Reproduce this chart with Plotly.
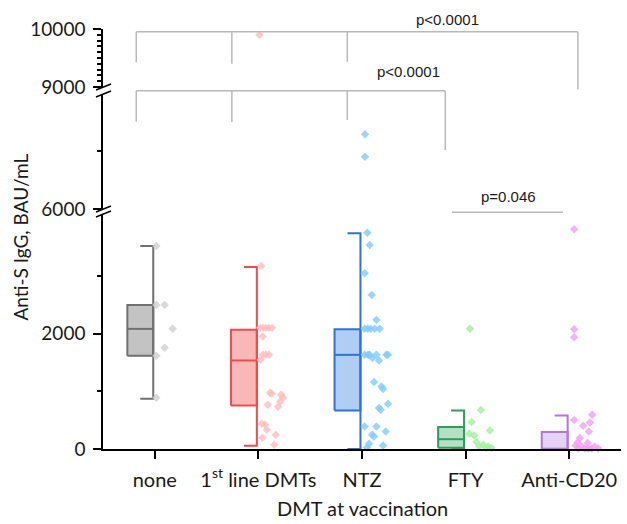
import plotly.graph_objects as go

# ---------------- data ----------------
categories = ["none", "1<sup>st</sup> line DMTs", "NTZ", "FTY", "Anti-CD20"]

# box statistics (BAU/mL)
box_min = [872, 57, 0, 0, 0]
box_q1 = [1617, 756, 669, 23, 0]
box_med = [2085, 1536, 1634, 170, 5]
box_q3 = [2501, 2068, 2080, 381, 295]
box_max = [3523, 3159, 3743, 669, 582]

# individual values and their horizontal offsets (category units) as placed in the picture
none_vals = [3523, 2501, 2501, 2085, 1756, 1617, 889]
none_offs = [0.015, 0.015, 0.095, 0.172, 0.095, 0.015, 0.015]

first_vals = [9900, 3177, 2102, 2102, 2102, 2102, 2102, 1951, 1636, 1636, 1636, 1548,
              976, 958, 768, 941, 889, 820, 733, 438, 421, 334, 248, 196, 75]
first_offs = [0.010, 0.026, 0.016, 0.045, 0.074, 0.103, 0.132, 0.042, 0.045, 0.074, 0.103, 0.023,
              0.113, 0.129, 0.091, 0.219, 0.238, 0.209, 0.190, 0.033, 0.065, 0.081, 0.168, 0.039, 0.152]

ntz_vals = [7295, 6906, 3754, 3540, 3050, 2674, 2241, 2085, 2085, 2085, 2085, 2085,
            1634, 1634, 1634, 1634, 1634, 1634, 1577, 1536, 1161, 1085, 1040, 785, 711, 681,
            392, 392, 305, 248, 218, 92, 62, 28]
ntz_offs = [0.029, 0.029, 0.052, 0.074, 0.026, 0.094, 0.139, 0.026, 0.055, 0.084, 0.123, 0.171,
            0.026, 0.058, 0.074, 0.139, 0.236, 0.251, 0.100, 0.164, 0.116, 0.187, 0.203, 0.251, 0.164, 0.180,
            0.026, 0.139, 0.229, 0.097, 0.116, 0.068, 0.203, 0.048]

fty_vals = [2085, 676, 468, 322, 265, 236, 121, 75, 45, 45, 17, 17]
fty_offs = [0.042, 0.148, 0.058, 0.235, 0.035, 0.083, 0.106, 0.170, 0.131, 0.218, 0.251, 0.203]

cd20_vals = [3813, 2080, 1941, 594, 503, 461, 404, 305, 191, 114, 104, 57, 45, 45, 10, 10, 10, 10, 10]
cd20_offs = [0.048, 0.048, 0.048, 0.222, 0.048, 0.200, 0.135, 0.190, 0.103, 0.081, 0.178, 0.062,
             0.120, 0.248, 0.216, 0.152, 0.280, 0.087, 0.183]

group_vals = [none_vals, first_vals, ntz_vals, fty_vals, cd20_vals]
group_offs = [none_offs, first_offs, ntz_offs, fty_offs, cd20_offs]

# axis segments (broken y axis)
seg_ranges = {"y": [0, 4078], "y2": [6000, 7993], "y3": [9000, 10000]}
seg_ticks = {"y": [0, 2000], "y2": [6000], "y3": [9000, 10000]}
seg_minor = {"y": [1000, 3000], "y2": [7000], "y3": list(range(9100, 10000, 100))}

# significance annotations
p_labels = ["p&lt;0.0001", "p&lt;0.0001", "p=0.046"]

# ---------------- styles ----------------
line_cols = ["#707070", "#f24b4b", "#2b74d9", "#2e9e5b", "#b574e3"]
fill_cols = ["#c3c3c3", "#f9b8b8", "#b0cdf3", "#b6dfc6", "#e3d3f4"]
pt_cols = ["#d0d0d0", "#ffbdbd", "#80ccff", "#a0f09c", "#f59cf5"]

FONT = "Lato"
TXT = "#1a1a1a"

fig = go.Figure()


def seg_of(v):
    if v >= 9000:
        return "y3"
    if v >= 6000:
        return "y2"
    return "y"


for i in range(len(categories)):
    L, R = i - 0.265, i - 0.015
    C = (L + R) / 2
    lc = dict(color=line_cols[i], width=2)
    fig.add_trace(go.Scatter(x=[L, R, R, L, L],
                             y=[box_q1[i], box_q1[i], box_q3[i], box_q3[i], box_q1[i]],
                             mode="lines", fill="toself", fillcolor=fill_cols[i], line=lc,
                             cliponaxis=False, hoverinfo="skip"))
    fig.add_trace(go.Scatter(x=[L, R], y=[box_med[i], box_med[i]], mode="lines", line=lc,
                             cliponaxis=False, hoverinfo="skip"))
    fig.add_trace(go.Scatter(x=[C, R, R, C], y=[box_max[i], box_max[i], box_min[i], box_min[i]],
                             mode="lines", line=lc, cliponaxis=False, hoverinfo="skip"))
    for ax in ["y", "y2", "y3"]:
        xs = [i + o for v, o in zip(group_vals[i], group_offs[i]) if seg_of(v) == ax]
        ys = [v for v in group_vals[i] if seg_of(v) == ax]
        if not xs:
            continue
        fig.add_trace(go.Scatter(x=xs, y=ys, mode="markers", xaxis="x", yaxis=ax,
                                 marker=dict(symbol="diamond", size=6.5, color=pt_cols[i],
                                             opacity=0.8, line=dict(width=0)),
                                 cliponaxis=False))

# plot area: 518 x 420 px, bottom at y=449
H = 420.0
BOT = 449.0


def py(ypx):
    return (BOT - ypx) / H


domains = {"y": [0, py(214)], "y2": [py(209), py(94)], "y3": [py(87), 1.0]}

axis_common = dict(showline=True, linecolor="black", linewidth=1.5, ticks="outside", ticklen=8,
                   tickwidth=1.5, tickcolor="black", showgrid=False, zeroline=False, anchor="x",
                   tickfont=dict(family=FONT, size=19, color=TXT), ticklabelstandoff=4)

layout_axes = {}
for name, key in [("y", "yaxis"), ("y2", "yaxis2"), ("y3", "yaxis3")]:
    layout_axes[key] = dict(axis_common, domain=domains[name], range=seg_ranges[name],
                            tickmode="array", tickvals=seg_ticks[name],
                            ticktext=[str(t) for t in seg_ticks[name]],
                            minor=dict(ticks="outside", ticklen=4, tickwidth=1.5, tickcolor="black",
                                       tickmode="array", tickvals=seg_minor[name], showgrid=False))

fig.update_layout(
    width=627, height=524,
    margin=dict(l=103, r=6, t=29, b=75),
    paper_bgcolor="white", plot_bgcolor="white",
    showlegend=False,
    xaxis=dict(domain=[0, 1], range=[-0.5, 4.5], anchor="y", showline=True, linecolor="black",
               linewidth=1.5, ticks="outside", ticklen=8, tickwidth=1.5, tickcolor="black",
               showgrid=False, zeroline=False, tickmode="array", tickvals=list(range(5)),
               ticktext=categories, tickfont=dict(family=FONT, size=20, color=TXT),
               ticklabelstandoff=4),
    **layout_axes,
)

# axis break marks (double slashes)
shapes = []
for yy in [domains["y"][1], domains["y2"][0], domains["y2"][1], domains["y3"][0]]:
    shapes.append(dict(type="line", xref="paper", yref="paper", xsizemode="pixel", ysizemode="pixel",
                       xanchor=0, yanchor=yy, x0=-7, x1=8, y0=-3, y1=3,
                       line=dict(color="black", width=1.5)))

# significance brackets (x in category units, y in paper units)
gray = dict(color="#b9b9b9", width=1.5)
brackets = [
    ([-0.179, 0.744, 1.858, 4.084], 31.7, [62.3, 63.7, 61.7, 89.3]),
    ([-0.179, 0.744, 1.858, 2.804], 90.7, [121.7, 122.0, 120.0, 150.0]),
]
for xs, ybar, ybots in brackets:
    shapes.append(dict(type="line", xref="x", yref="paper", x0=xs[0], x1=xs[-1],
                       y0=py(ybar), y1=py(ybar), line=gray))
    for xv, yb in zip(xs, ybots):
        shapes.append(dict(type="line", xref="x", yref="paper", x0=xv, x1=xv,
                           y0=py(ybar), y1=py(yb), line=gray))
shapes.append(dict(type="line", xref="x", yref="paper", x0=2.868, x1=3.939,
                   y0=py(212.3), y1=py(212.3), line=gray))
fig.update_layout(shapes=shapes)

pfont = dict(family="Liberation Sans", size=15, color=TXT)
annotations = [
    dict(text=p_labels[0], x=2.829, y=py(19.3), xref="x", yref="paper", showarrow=False,
         yanchor="middle", font=pfont),
    dict(text=p_labels[1], x=2.453, y=py(71.0), xref="x", yref="paper", showarrow=False,
         yanchor="middle", font=pfont),
    dict(text=p_labels[2], x=3.418, y=py(196.7), xref="x", yref="paper", showarrow=False,
         yanchor="middle", font=pfont),
    dict(text="Anti-S IgG, BAU/mL", textangle=-90, x=(19.5 - 103) / 518, y=py(237), xref="paper",
         yref="paper", showarrow=False, xanchor="center", yanchor="middle",
         font=dict(family=FONT, size=19, color=TXT)),
    dict(text="DMT at vaccination", x=0.5, y=py(508), xref="paper", yref="paper", showarrow=False,
         xanchor="center", yanchor="middle", font=dict(family=FONT, size=20, color=TXT)),
]
fig.update_layout(annotations=annotations)

fig.write_html("out.html", config={"displayModeBar": False},
               post_script="document.body.style.margin='0';document.body.style.padding='0';")
